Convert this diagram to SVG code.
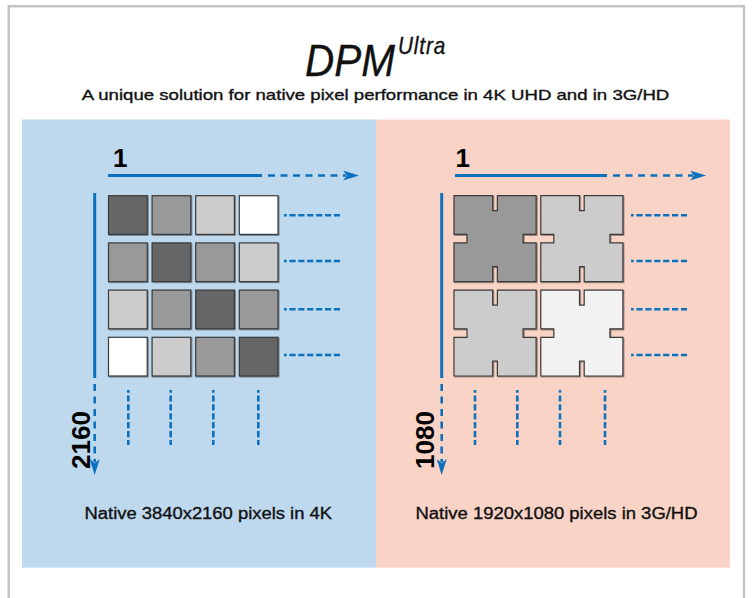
<svg xmlns="http://www.w3.org/2000/svg" xmlns:xlink="http://www.w3.org/1999/xlink" width="753" height="598" viewBox="0 0 753 598">
  <style>
    .txt { font-family: "Liberation Sans", Arial, sans-serif; fill: #111; stroke: #111; stroke-width: 0.35; }
    .num { font-family: "Liberation Sans", Arial, sans-serif; font-weight: bold; fill: #000; }
    .px { stroke: #3a3a3a; stroke-width: 1.2; filter: url(#sh); }
    .axis { stroke: #0b70bd; stroke-width: 3; fill: none; }
    .axdash { stroke: #0b70bd; stroke-width: 2.6; fill: none; stroke-dasharray: 7 5.5; }
    .dots { stroke: #0b70bd; stroke-width: 2.6; fill: none; stroke-dasharray: 6.2 2.7; stroke-dashoffset: 3.5; }
  </style>
  <defs>
    <filter id="sh" x="-10%" y="-10%" width="130%" height="130%">
      <feDropShadow dx="0.8" dy="0.8" stdDeviation="0.3" flood-color="#000" flood-opacity="0.45"/>
    </filter>
    <marker id="arr" viewBox="0 0 16 10" refX="3" refY="5" markerWidth="16" markerHeight="10" markerUnits="userSpaceOnUse" orient="auto">
      <path d="M0,0 L16,5 L0,10 L4,5 Z" fill="#0b70bd"/>
    </marker>
    <path id="cross" d="M0,0 H38.7 V15 H43.4 V0 H82.1 V38.7 H69.1 V47.2 H82.1 V85.9 H43.4 V70.9 H38.7 V85.9 H0 V47.2 H13 V38.7 H0 Z"/>
    <rect id="sq" width="38.7" height="38.7"/>
  </defs>

  <!-- frame -->
  <rect x="8.7" y="6.2" width="735.3" height="600" fill="#fff" stroke="#c4c4c8" stroke-width="2.5"/>

  <g id="title">
    <text class="txt" font-style="italic" transform="translate(305,76) scale(0.9,1)"><tspan font-size="45">DPM</tspan><tspan font-size="23" dx="3.3" dy="-22" letter-spacing="1">Ultra</tspan></text>
  </g>
  <g id="subtitle">
    <text class="txt" x="81.7" y="100" font-size="15" textLength="587.6" lengthAdjust="spacingAndGlyphs">A unique solution for native pixel performance in 4K UHD and in 3G/HD</text>
  </g>

  <g id="panel-4k">
    <rect x="22" y="119.5" width="354" height="448.2" fill="#bed9ee"/>
    <text class="num" x="113" y="166.7" font-size="26">1</text>
    <text class="num" font-size="26" transform="translate(89.5,469) rotate(-90)">2160</text>
    <text class="txt" x="84.5" y="519.3" font-size="16" textLength="247.5" lengthAdjust="spacingAndGlyphs">Native 3840x2160 pixels in 4K</text>
  </g>
  <g id="panel-hd">
    <rect x="376" y="119.5" width="354" height="448.2" fill="#f9d4c6"/>
    <text class="num" x="455.5" y="166.7" font-size="26">1</text>
    <text class="num" font-size="26" transform="translate(433.5,469) rotate(-90)">1080</text>
    <text class="txt" x="415.5" y="519.3" font-size="16" textLength="282" lengthAdjust="spacingAndGlyphs">Native 1920x1080 pixels in 3G/HD</text>
  </g>

  <g id="grid-4k">
    <g id="px-r1">
      <use xlink:href="#sq" class="px" x="108.5" y="195.7" fill="#666666"/>
      <use xlink:href="#sq" class="px" x="152.1" y="195.7" fill="#999999"/>
      <use xlink:href="#sq" class="px" x="195.7" y="195.7" fill="#cccccc"/>
      <use xlink:href="#sq" class="px" x="239.3" y="195.7" fill="#ffffff"/>
    </g>
    <g id="px-r2">
      <use xlink:href="#sq" class="px" x="108.5" y="242.9" fill="#999999"/>
      <use xlink:href="#sq" class="px" x="152.1" y="242.9" fill="#666666"/>
      <use xlink:href="#sq" class="px" x="195.7" y="242.9" fill="#999999"/>
      <use xlink:href="#sq" class="px" x="239.3" y="242.9" fill="#cccccc"/>
    </g>
    <g id="px-r3">
      <use xlink:href="#sq" class="px" x="108.5" y="290.1" fill="#cccccc"/>
      <use xlink:href="#sq" class="px" x="152.1" y="290.1" fill="#999999"/>
      <use xlink:href="#sq" class="px" x="195.7" y="290.1" fill="#666666"/>
      <use xlink:href="#sq" class="px" x="239.3" y="290.1" fill="#999999"/>
    </g>
    <g id="px-r4">
      <use xlink:href="#sq" class="px" x="108.5" y="337.3" fill="#ffffff"/>
      <use xlink:href="#sq" class="px" x="152.1" y="337.3" fill="#cccccc"/>
      <use xlink:href="#sq" class="px" x="195.7" y="337.3" fill="#999999"/>
      <use xlink:href="#sq" class="px" x="239.3" y="337.3" fill="#666666"/>
    </g>
  </g>

  <g id="grid-hd">
    <g id="blk-1"><use xlink:href="#cross" class="px" x="454" y="195.7" fill="#999999"/></g>
    <g id="blk-2"><use xlink:href="#cross" class="px" x="540.8" y="195.7" fill="#cccccc"/></g>
    <g id="blk-3"><use xlink:href="#cross" class="px" x="454" y="290.1" fill="#cccccc"/></g>
    <g id="blk-4"><use xlink:href="#cross" class="px" x="540.8" y="290.1" fill="#f2f2f2"/></g>
  </g>

  <g id="connectors">
    <line class="axis" x1="108" y1="175.5" x2="262" y2="175.5"/>
    <line class="axdash" x1="268" y1="175.5" x2="346" y2="175.5" marker-end="url(#arr)"/>
    <line class="axis" x1="94.7" y1="193" x2="94.7" y2="378"/>
    <line class="axdash" x1="94.7" y1="384" x2="94.7" y2="462" marker-end="url(#arr)"/>
    <line class="axis" x1="455" y1="175.5" x2="607" y2="175.5"/>
    <line class="axdash" x1="613" y1="175.5" x2="693" y2="175.5" marker-end="url(#arr)"/>
    <line class="axis" x1="441.7" y1="193" x2="441.7" y2="378"/>
    <line class="axdash" x1="441.7" y1="384" x2="441.7" y2="462" marker-end="url(#arr)"/>
    <line class="dots" x1="284" y1="215.3" x2="340" y2="215.3"/>
    <line class="dots" x1="284" y1="261" x2="340" y2="261"/>
    <line class="dots" x1="284" y1="309.3" x2="340" y2="309.3"/>
    <line class="dots" x1="284" y1="355" x2="340" y2="355"/>
    <line class="dots" x1="128.3" y1="390" x2="128.3" y2="445"/>
    <line class="dots" x1="170.7" y1="390" x2="170.7" y2="445"/>
    <line class="dots" x1="213.3" y1="390" x2="213.3" y2="445"/>
    <line class="dots" x1="258.3" y1="390" x2="258.3" y2="445"/>
    <line class="dots" x1="631" y1="215.3" x2="687" y2="215.3"/>
    <line class="dots" x1="631" y1="261" x2="687" y2="261"/>
    <line class="dots" x1="631" y1="309.3" x2="687" y2="309.3"/>
    <line class="dots" x1="631" y1="355" x2="687" y2="355"/>
    <line class="dots" x1="475" y1="390" x2="475" y2="445"/>
    <line class="dots" x1="517.3" y1="390" x2="517.3" y2="445"/>
    <line class="dots" x1="560" y1="390" x2="560" y2="445"/>
    <line class="dots" x1="605" y1="390" x2="605" y2="445"/>
  </g>
</svg>
